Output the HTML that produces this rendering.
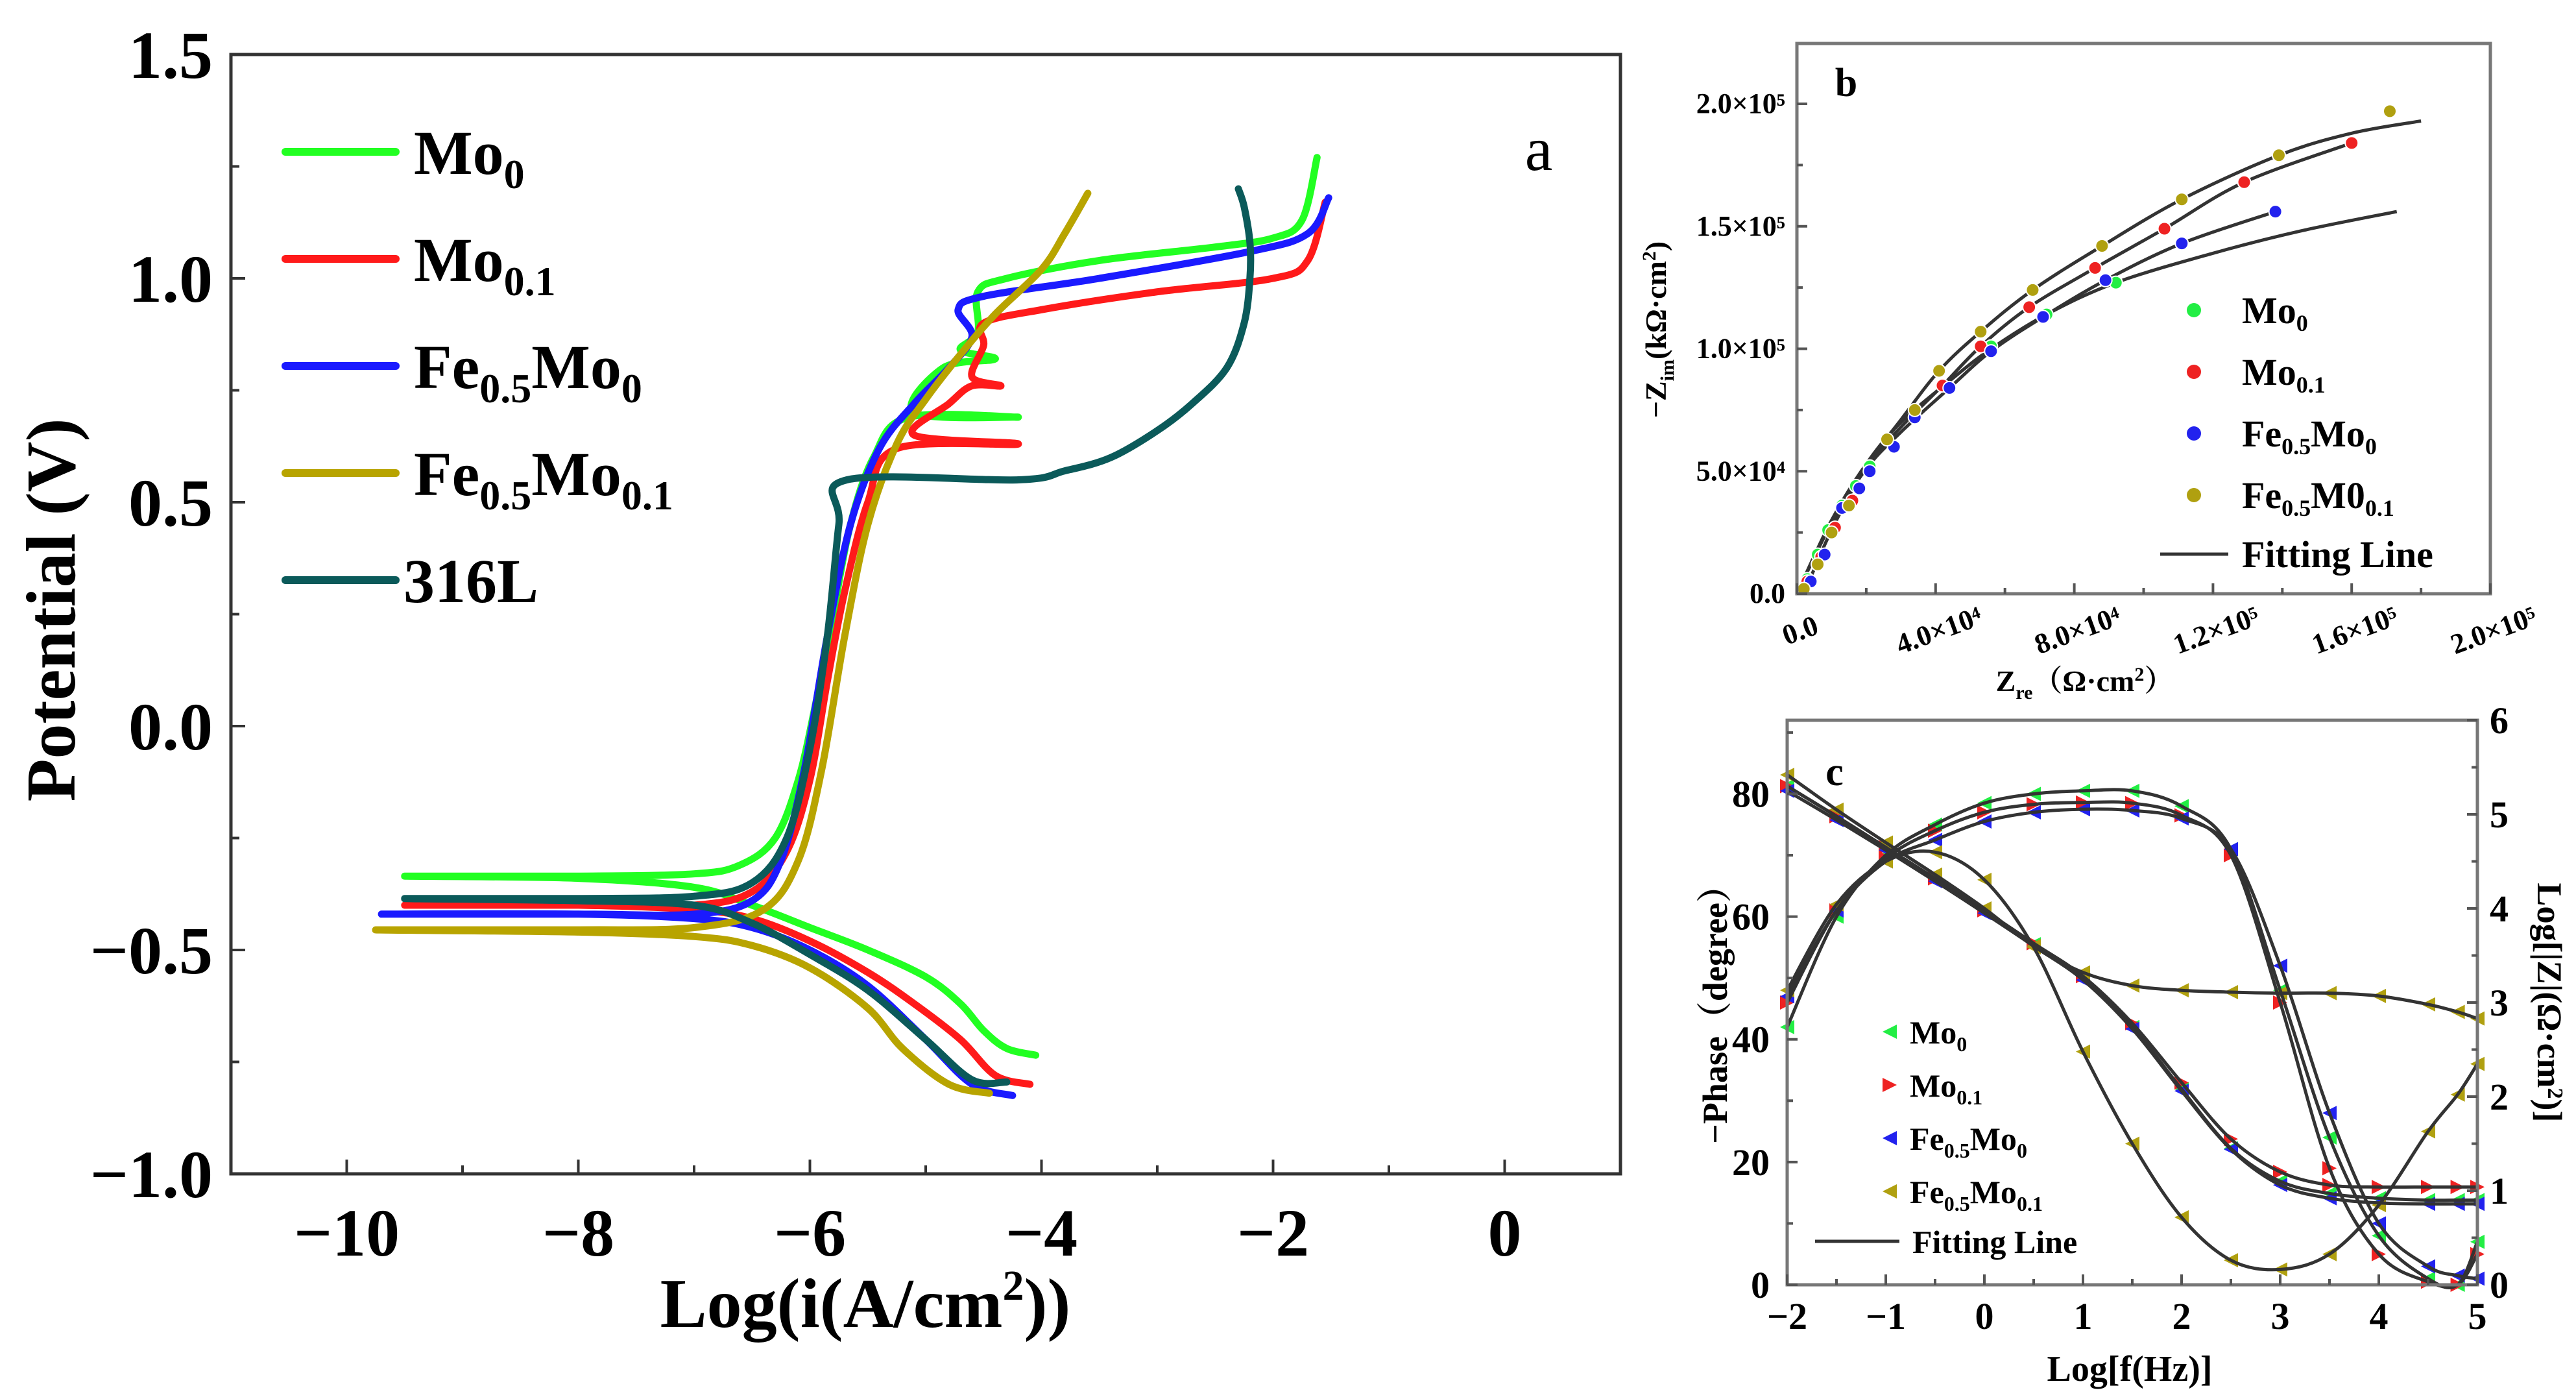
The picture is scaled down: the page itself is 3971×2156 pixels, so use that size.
<!DOCTYPE html>
<html><head><meta charset="utf-8"><title>Polarization and EIS</title>
<style>
html,body{margin:0;padding:0;background:#fff;}
svg{display:block;font-family:"Liberation Serif","Noto Serif CJK SC",serif;font-weight:bold;}
</style></head>
<body>
<svg id="fig" xmlns="http://www.w3.org/2000/svg" width="3971" height="2156" viewBox="0 0 3971 2156">
<rect width="3971" height="2156" fill="#fff"/>
<g id="pa"></g>
<g id="pb"></g>
<g id="pc"></g>
</svg>
<script>
// ---------- Panel a data ----------
const aXTicks = [-10,-8,-6,-4,-2,0];
const aYTicks = [1.5,1.0,0.5,0.0,-0.5,-1.0];
const aYTickLabels = ["1.5","1.0","0.5","0.0","\u22120.5","\u22121.0"];
const aXTickLabels = ["\u221210","\u22128","\u22126","\u22124","\u22122","0"];
const aNames = ["Mo0","Mo0.1","Fe0.5Mo0","Fe0.5Mo0.1","316L"];
const aMo0 = [[-4.05,-0.735],[-4.3,-0.72],[-4.5,-0.68],[-4.7,-0.62],[-5.0,-0.56],[-5.5,-0.5],[-6.0,-0.45],[-6.5,-0.40],[-7.0,-0.36],[-8,-0.34],[-9.5,-0.335],[-8,-0.335],[-7,-0.33],[-6.6,-0.31],[-6.3,-0.25],[-6.1,-0.12],[-5.95,0.05],[-5.8,0.25],[-5.65,0.45],[-5.45,0.6],[-5.15,0.69],[-4.2,0.69],[-5.1,0.7],[-4.85,0.8],[-4.4,0.82],[-4.7,0.84],[-4.55,0.88],[-4.55,0.97],[-4.3,1.0],[-3.5,1.04],[-2.5,1.07],[-2.0,1.09],[-1.75,1.13],[-1.62,1.27]];
const aMo01 = [[-4.1,-0.80],[-4.4,-0.78],[-4.7,-0.70],[-5.1,-0.62],[-5.5,-0.55],[-6.0,-0.48],[-6.5,-0.43],[-7,-0.41],[-8,-0.40],[-9.5,-0.40],[-8,-0.40],[-7,-0.40],[-6.5,-0.37],[-6.2,-0.28],[-6.0,-0.12],[-5.85,0.1],[-5.7,0.3],[-5.5,0.5],[-5.25,0.62],[-4.2,0.63],[-5.1,0.65],[-4.8,0.72],[-4.6,0.76],[-4.35,0.76],[-4.6,0.78],[-4.5,0.85],[-4.5,0.9],[-4.0,0.93],[-3.0,0.97],[-2.0,1.0],[-1.7,1.04],[-1.55,1.17]];
const aFeMo0 = [[-4.25,-0.825],[-4.6,-0.80],[-5.0,-0.70],[-5.5,-0.58],[-6,-0.50],[-6.5,-0.45],[-7,-0.43],[-8,-0.42],[-9.7,-0.42],[-8,-0.42],[-7,-0.42],[-6.5,-0.39],[-6.25,-0.3],[-6.05,-0.1],[-5.85,0.2],[-5.65,0.45],[-5.4,0.62],[-5.1,0.72],[-4.8,0.8],[-4.6,0.87],[-4.72,0.93],[-4.5,0.96],[-3.5,1.0],[-2.2,1.06],[-1.7,1.1],[-1.52,1.18]];
const aFeMo01 = [[-4.45,-0.82],[-4.8,-0.80],[-5.2,-0.72],[-5.5,-0.63],[-6,-0.54],[-6.5,-0.49],[-7,-0.47],[-8,-0.46],[-9.75,-0.455],[-8,-0.455],[-7,-0.45],[-6.4,-0.41],[-6.1,-0.3],[-5.9,-0.1],[-5.7,0.2],[-5.5,0.45],[-5.25,0.63],[-5.0,0.73],[-4.7,0.83],[-4.4,0.92],[-4.0,1.02],[-3.8,1.1],[-3.6,1.19]];
const a316L = [[-4.3,-0.795],[-4.6,-0.79],[-5.0,-0.70],[-5.5,-0.59],[-6,-0.51],[-6.5,-0.44],[-7,-0.40],[-8,-0.39],[-9.5,-0.385],[-8,-0.385],[-7,-0.38],[-6.5,-0.35],[-6.2,-0.25],[-6.0,-0.05],[-5.85,0.2],[-5.75,0.45],[-5.68,0.55],[-4.2,0.55],[-3.8,0.57],[-3.4,0.6],[-3.0,0.66],[-2.7,0.72],[-2.4,0.8],[-2.25,0.9],[-2.2,1.0],[-2.2,1.08],[-2.25,1.16],[-2.3,1.2]];
const aColors = ["#22ff22","#ff1a1a","#1a1aff","#b8a400","#0b5a5a"];

// ---------- Panel b data (units of 1e4 ohm cm2) ----------
const bXTicks = [0,4,8,12,16,20];
const bXTickLabels = ["0.0","4.0\u00d710\u2074","8.0\u00d710\u2074","1.2\u00d710\u2075","1.6\u00d710\u2075","2.0\u00d710\u2075"];
const bYTicks = [0,5,10,15,20];
const bYTickLabels = ["0.0","5.0\u00d710\u2074","1.0\u00d710\u2075","1.5\u00d710\u2075","2.0\u00d710\u2075"];
const bGreenPts = [[0.3,0.6],[0.6,1.6],[0.9,2.6],[1.3,3.6],[1.7,4.4],[2.1,5.2],[5.6,10.1],[7.2,11.4],[9.2,12.7]];
const bRedPts = [[0.3,0.5],[0.7,1.5],[1.1,2.7],[1.6,3.8],[2.8,6.0],[4.2,8.5],[5.3,10.1],[6.7,11.7],[8.6,13.3],[10.6,14.9],[12.9,16.8],[16.0,18.4]];
const bBluePts = [[0.4,0.5],[0.8,1.6],[1.3,3.5],[1.8,4.3],[2.1,5.0],[2.8,6.0],[3.4,7.2],[4.4,8.4],[5.6,9.9],[7.1,11.3],[8.9,12.8],[11.1,14.3],[13.8,15.6]];
const bOlivePts = [[0.2,0.2],[0.6,1.2],[1.0,2.5],[1.5,3.6],[2.6,6.3],[3.4,7.5],[4.1,9.1],[5.3,10.7],[6.8,12.4],[8.8,14.2],[11.1,16.1],[13.9,17.9],[17.1,19.7]];
const bGreenFit = [[0,0],[1,3],[2,5.3],[3,7],[4.5,8.8],[5.6,10],[7.2,11.4],[9.2,12.7],[12,13.9],[14.5,14.8],[17.3,15.6]];
const bRedFit = [[0,0],[1,2.9],[2,5.2],[3,6.8],[4.2,8.5],[5.3,10.1],[6.7,11.7],[8.6,13.3],[10.6,14.9],[12.9,16.8],[16.0,18.4]];
const bBlueFit = [[0,0],[1,2.9],[2,5.1],[3,6.6],[4.4,8.4],[5.6,9.9],[7.1,11.3],[8.9,12.8],[11.1,14.3],[13.8,15.6]];
const bOliveFit = [[0.2,0],[1,2.6],[2,5.2],[3,7.1],[4.1,9.1],[5.3,10.7],[6.8,12.4],[8.8,14.2],[11.1,16.1],[13.9,17.9],[16,18.8],[18,19.3]];

// ---------- Panel c data ----------
const cXTicks = [-2,-1,0,1,2,3,4,5];
const cXTickLabels = ["\u22122","\u22121","0","1","2","3","4","5"];
const cYTicks = [0,20,40,60,80];
const cY2Ticks = [0,1,2,3,4,5,6];
const cFreq = [-2,-1.5,-1,-0.5,0,0.5,1,1.5,2,2.5,3,3.5,4,4.5,4.8,5];
const cPhaseMo0 = [42,60,70,75,78.5,80,80.5,80.5,78,71,48,24,8,1,0,7];
const cPhaseMo01 = [46,61,69.5,74,77,78.3,78.6,78.5,76.5,70,46,19,5,0.5,0,5];
const cPhaseFeMo0 = [47,61,69,72.5,75.5,77,77.5,77.3,76,71,52,28,10,3,1.5,1];
const cPhaseFeMo01 = [48,62,69,70.5,66,55,38,23,11,4,2.5,5,13,25,31,36];
const cModMo0 = [5.3,4.98,4.65,4.31,3.97,3.62,3.26,2.74,2.08,1.45,1.1,0.97,0.92,0.9,0.9,0.9];
const cModMo01 = [5.3,4.98,4.65,4.32,3.98,3.63,3.28,2.78,2.15,1.55,1.2,1.06,1.04,1.04,1.04,1.04];
const cModFeMo0 = [5.25,4.94,4.62,4.29,3.95,3.6,3.24,2.72,2.06,1.44,1.06,0.92,0.87,0.86,0.86,0.86];
const cModFeMo01 = [5.42,5.05,4.7,4.36,4.0,3.6,3.32,3.18,3.13,3.11,3.1,3.1,3.07,2.98,2.9,2.83];

const NS = "http://www.w3.org/2000/svg";
function mk(parent, tag, attrs){ const e=document.createElementNS(NS,tag); for(const k in attrs) e.setAttribute(k,attrs[k]); parent.appendChild(e); return e; }
function smooth(pts){ // catmull-rom
  let d = "M"+pts[0][0].toFixed(1)+","+pts[0][1].toFixed(1);
  for(let i=0;i<pts.length-1;i++){
    const p0=pts[Math.max(0,i-1)],p1=pts[i],p2=pts[i+1],p3=pts[Math.min(pts.length-1,i+2)];
    const c1=[p1[0]+(p2[0]-p0[0])/6,p1[1]+(p2[1]-p0[1])/6];
    const c2=[p2[0]-(p3[0]-p1[0])/6,p2[1]-(p3[1]-p1[1])/6];
    d+=" C"+c1[0].toFixed(1)+","+c1[1].toFixed(1)+" "+c2[0].toFixed(1)+","+c2[1].toFixed(1)+" "+p2[0].toFixed(1)+","+p2[1].toFixed(1);
  }
  return d;
}
function txt(parent, x, y, size, anchor, content, extra){
  const t = mk(parent,"text",Object.assign({x:x,y:y,"font-size":size,"text-anchor":anchor,fill:"#000"},extra||{}));
  t.innerHTML = content; return t;
}

// ================= Panel a =================
(function(){
  const g=document.getElementById("pa");
  const L=356,R=2498,T=84,B=1809;
  const X=v=>L+(v-(-11))/(1+11)*(R-L);
  const Y=v=>B-(v-(-1))/(2.5)*(B-T);
  for(let i=0;i<aNames.length;i++){
    const data=[aMo0,aMo01,aFeMo0,aFeMo01,a316L][i];
    const p=mk(g,"path",{d:smooth(data.map(q=>[X(q[0]),Y(q[1])])),fill:"none",stroke:aColors[i],"stroke-width":11,"stroke-linejoin":"round","stroke-linecap":"round"});
     
  }
  const box=mk(g,"rect",{x:L,y:T,width:R-L,height:B-T,fill:"none",stroke:"#333","stroke-width":5});
   
  const ticks=mk(g,"g",{stroke:"#333","stroke-width":4});
   
  for(let v=-10;v<=1;v+=1){ const len=(v%2===0)?22:13; mk(ticks,"line",{x1:X(v),y1:B,x2:X(v),y2:B-len}); }
  for(let v=-1;v<=1.5;v+=0.25){ const len=(Math.abs(v*2-Math.round(v*2))<1e-6)?22:13; mk(ticks,"line",{x1:L,y1:Y(v),x2:L+len,y2:Y(v)}); }
  aYTicks.forEach((v,i)=>{ const t=txt(g,328,Y(v)+36,104,"end",aYTickLabels[i]);  });
  aXTicks.forEach((v,i)=>{ const t=txt(g,X(v),1935,104,"middle",aXTickLabels[i]);  });
  let t=txt(g,1334,2045,108,"middle",'Log(i(A/cm<tspan font-size="66" dy="-42">2</tspan><tspan dy="42">))</tspan>');
   
  t=txt(g,0,0,108,"middle","Potential (V)",{transform:"translate(115,940) rotate(-90)"});
   
  t=txt(g,2372,262,96,"middle","a",{"font-weight":"normal"});
   
  const labels=['Mo<tspan font-size="64" dy="22">0</tspan>','Mo<tspan font-size="64" dy="22">0.1</tspan>','Fe<tspan font-size="64" dy="22">0.5</tspan><tspan dy="-22">Mo</tspan><tspan font-size="64" dy="22">0</tspan>','Fe<tspan font-size="64" dy="22">0.5</tspan><tspan dy="-22">Mo</tspan><tspan font-size="64" dy="22">0.1</tspan>','316L'];
  for(let i=0;i<5;i++){
    const yy=234+i*165;
    const lg=mk(g,"g",{});
     
    mk(lg,"line",{x1:440,y1:yy,x2:610,y2:yy,stroke:aColors[i],"stroke-width":12,"stroke-linecap":"round"});
    txt(lg,i===4?622:638,yy+34,96,"start",labels[i]);
  }
})();

// ================= Panel b =================
(function(){
  const g=document.getElementById("pb");
  const L=2770,R=3839,T=67,B=915;
  const X=v=>L+v/20*(R-L);
  const Y=v=>B-v/20*(B-160);
  const cols=["#22ee44","#ee2222","#2222ee","#b0a010"];
  const fits=[bGreenFit,bRedFit,bBlueFit,bOliveFit];
  const pts=[bGreenPts,bRedPts,bBluePts,bOlivePts];
  const nm=["Mo0","Mo01","Fe05Mo0","Fe05Mo01"];
  for(let i=0;i<4;i++){
    const f=mk(g,"path",{d:smooth(fits[i].map(q=>[X(q[0]),Y(q[1])])),fill:"none",stroke:"#333","stroke-width":5});
     
  }
  for(let i=0;i<4;i++){
    pts[i].forEach(q=>{
      const c=mk(g,"circle",{cx:X(q[0]),cy:Y(q[1]),r:10,fill:cols[i],stroke:"#fff","stroke-width":2});
       
    });
  }
  const box=mk(g,"rect",{x:L,y:T,width:R-L,height:B-T,fill:"none",stroke:"#777","stroke-width":5});
   
  const tk=mk(g,"g",{stroke:"#555","stroke-width":4});
   
  for(let v=0;v<=20;v+=2){ mk(tk,"line",{x1:X(v),y1:B,x2:X(v),y2:B-(v%4===0?16:9)}); }
  for(let v=0;v<=20;v+=2.5){ mk(tk,"line",{x1:L,y1:Y(v),x2:L+(v%5===0?16:9),y2:Y(v)}); }
  bYTicks.forEach((v,i)=>{ const t=txt(g,2752,Y(v)+14,44,"end",bYTickLabels[i]);  });
  bXTicks.forEach((v,i)=>{ const t=txt(g,0,0,44,"middle",bXTickLabels[i],{transform:"translate("+(X(v)+10)+",985) rotate(-20)"});  });
  let t=txt(g,3214,1065,46,"middle",'Z<tspan font-size="30" dy="12">re</tspan><tspan dy="-12">（Ω·cm</tspan><tspan font-size="30" dy="-16">2</tspan><tspan dy="16">）</tspan>');
   
  t=txt(g,0,0,46,"middle",'−Z<tspan font-size="30" dy="12">im</tspan><tspan dy="-12">(kΩ·cm</tspan><tspan font-size="30" dy="-16">2</tspan><tspan dy="16">)</tspan>',{transform:"translate(2568,508) rotate(-90)"});
   
  t=txt(g,2846,148,62,"middle","b");
   
  const labs=['Mo<tspan font-size="36" dy="12">0</tspan>','Mo<tspan font-size="36" dy="12">0.1</tspan>','Fe<tspan font-size="36" dy="12">0.5</tspan><tspan dy="-12">Mo</tspan><tspan font-size="36" dy="12">0</tspan>','Fe<tspan font-size="36" dy="12">0.5</tspan><tspan dy="-12">M0</tspan><tspan font-size="36" dy="12">0.1</tspan>'];
  for(let i=0;i<4;i++){
    const yy=478+i*95;
    const lg=mk(g,"g",{});
     
    mk(lg,"circle",{cx:3382,cy:yy,r:11,fill:cols[i]});
    txt(lg,3456,yy+20,58,"start",labs[i]);
  }
  const lg=mk(g,"g",{});
   
  mk(lg,"line",{x1:3330,y1:854,x2:3435,y2:854,stroke:"#333","stroke-width":5});
  txt(lg,3456,874,58,"start","Fitting Line");
})();

// ================= Panel c =================
(function(){
  const g=document.getElementById("pc");
  const L=2755,R=3819,T=1110,B=1980;
  const X=v=>L+(v+2)/7*(R-L);
  const Y=v=>B-v/92*(B-T);
  const Y2=v=>B-v/6*(B-T);
  const cols=["#22ee44","#ee2222","#2222ee","#b0a010"];
  const nm=["Mo0","Mo01","Fe05Mo0","Fe05Mo01"];
  const ph=[cPhaseMo0,cPhaseMo01,cPhaseFeMo0,cPhaseFeMo01];
  const md=[cModMo0,cModMo01,cModFeMo0,cModFeMo01];
  function tri(cx,cy,dir,col,name){
    const s=11; let pts;
    if(dir==="L") pts=[[cx-s,cy],[cx+s,cy-s],[cx+s,cy+s]];
    else pts=[[cx+s,cy],[cx-s,cy-s],[cx-s,cy+s]];
    const p=mk(g,"polygon",{points:pts.map(q=>q.join(",")).join(" "),fill:col});
     
  }
  for(let i=0;i<4;i++){
    ph[i].forEach((v,j)=>tri(X(cFreq[j]),Y(v),i===1?"R":"L",cols[i],'phase-point-'+nm[i]));
    md[i].forEach((v,j)=>tri(X(cFreq[j]),Y2(v),i===1?"R":"L",cols[i],'modulus-point-'+nm[i]));
  }
  for(let i=0;i<4;i++){
    let p=mk(g,"path",{d:smooth(ph[i].map((v,j)=>[X(cFreq[j]),Y(v)])),fill:"none",stroke:"#333","stroke-width":5});
     
    p=mk(g,"path",{d:smooth(md[i].map((v,j)=>[X(cFreq[j]),Y2(v)])),fill:"none",stroke:"#333","stroke-width":5});
     
  }
  const box=mk(g,"rect",{x:L,y:T,width:R-L,height:B-T,fill:"none",stroke:"#777","stroke-width":5});
   
  const tk=mk(g,"g",{stroke:"#555","stroke-width":4});
   
  for(let v=-2;v<=5;v+=0.5){ const len=Number.isInteger(v)?16:9; mk(tk,"line",{x1:X(v),y1:B,x2:X(v),y2:B-len}); }
  for(let v=0;v<=90;v+=10){ const len=(v%20===0)?16:9; mk(tk,"line",{x1:L,y1:Y(v),x2:L+len,y2:Y(v)}); }
  for(let v=0;v<=6;v+=0.5){ const len=Number.isInteger(v)?16:9; mk(tk,"line",{x1:R,y1:Y2(v),x2:R-len,y2:Y2(v)}); }
  cYTicks.forEach(v=>{ const t=txt(g,2728,Y(v)+20,58,"end",String(v));  });
  cY2Ticks.forEach(v=>{ const t=txt(g,3838,Y2(v)+20,58,"start",String(v));  });
  cXTicks.forEach((v,i)=>{ const t=txt(g,X(v),2048,58,"middle",cXTickLabels[i]);  });
  let t=txt(g,3283,2128,56,"middle","Log[f(Hz)]");
   
  t=txt(g,0,0,54,"middle","−Phase（degree）",{transform:"translate(2662,1550) rotate(-90)"});
   
  t=txt(g,0,0,54,"middle",'Log[|Z|(Ω·cm<tspan font-size="34" dy="-16">2</tspan><tspan dy="16">)]</tspan>',{transform:"translate(3912,1545) rotate(90)"});
   
  t=txt(g,2828,1210,62,"middle","c");
   
  const labs=['Mo<tspan font-size="32" dy="12">0</tspan>','Mo<tspan font-size="32" dy="12">0.1</tspan>','Fe<tspan font-size="32" dy="12">0.5</tspan><tspan dy="-12">Mo</tspan><tspan font-size="32" dy="12">0</tspan>','Fe<tspan font-size="32" dy="12">0.5</tspan><tspan dy="-12">Mo</tspan><tspan font-size="32" dy="12">0.1</tspan>'];
  for(let i=0;i<4;i++){
    const yy=1590+i*82;
    tri(2913,yy,i===1?"R":"L",cols[i],'c-legend-marker-'+nm[i]);
    const tt=txt(g,2944,yy+18,50,"start",labs[i]);
     
  }
  const lg=mk(g,"g",{});
   
  mk(lg,"line",{x1:2798,y1:1913,x2:2928,y2:1913,stroke:"#333","stroke-width":5});
  txt(lg,2948,1931,50,"start","Fitting Line");
})();
</script>
</body></html>
